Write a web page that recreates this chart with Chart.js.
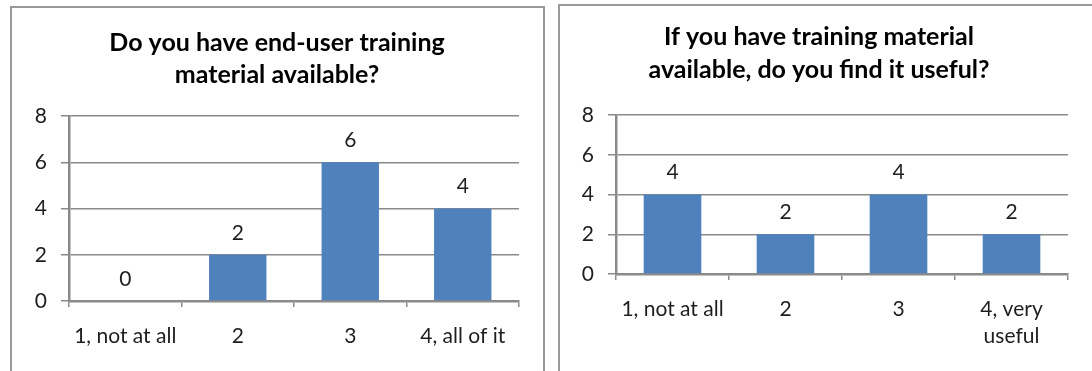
<!DOCTYPE html>
<html>
<head>
<meta charset="utf-8">
<script src="https://cdn.jsdelivr.net/npm/chart.js@4.4.1/dist/chart.umd.min.js"></script>
<style>
  body { margin: 0; background: #fff; width: 1092px; height: 371px; overflow: hidden; position: relative; }
  .frame { position: absolute; border: 2px solid #9a9a9a; box-sizing: border-box; }
  canvas { position: absolute; }
</style>
</head>
<body>
<div class="frame" style="left:10px;top:6px;width:535px;height:380px"></div>
<div class="frame" style="left:558px;top:4px;width:540px;height:380px"></div>
<canvas id="chart-available" style="left:12px;top:8px" width="530" height="363"></canvas>
<canvas id="chart-useful" style="left:560px;top:6px" width="532" height="365"></canvas>
<script>
// Survey answers, one chart per question
const availableTitle = ['Do you have end-user training', 'material available?'];
const availableLabels = ['1, not at all', '2', '3', '4, all of it'];
const availableCounts = [0, 2, 6, 4];

const usefulTitle = ['If you have training material', 'available, do you find it useful?'];
const usefulLabels = ['1, not at all', '2', '3', ['4, very', 'useful']];
const usefulCounts = [4, 2, 4, 2];

// Y axis: 0 to 8, every 2
const yMin = 0;
const yMax = 8;
const yStep = 2;

const barColor = '#4f81bd';
const lineColor = '#8a8a8a';
const textColor = '#1e1e1e';

Chart.defaults.font.family = 'Lato';
Chart.defaults.color = textColor;

// value written above each bar
const valueLabels = {
  id: 'valueLabels',
  afterDatasetsDraw(chart) {
    const ctx = chart.ctx;
    const values = chart.data.datasets[0].data;
    ctx.save();
    ctx.font = '21px Lato';
    ctx.fillStyle = textColor;
    ctx.textAlign = 'center';
    ctx.textBaseline = 'middle';
    chart.getDatasetMeta(0).data.forEach(function (bar, i) {
      ctx.fillText(String(values[i]), bar.x, bar.y - 22);
    });
    ctx.restore();
  }
};

function drawChart(id, title, labels, counts, box) {
  return new Chart(document.getElementById(id), {
    type: 'bar',
    data: {
      labels: labels,
      datasets: [{
        data: counts,
        backgroundColor: barColor,
        borderWidth: 0,
        barPercentage: 0.51,
        categoryPercentage: 1
      }]
    },
    options: {
      responsive: false,
      animation: false,
      layout: { padding: { left: 0, right: box.right, top: 0, bottom: 0 } },
      plugins: {
        legend: { display: false },
        tooltip: { enabled: false },
        title: {
          display: true,
          text: title,
          color: '#000',
          font: { size: 25, weight: 'bold', lineHeight: box.titleLine + 'px' },
          padding: { top: box.titleTop, bottom: box.titleBottom }
        }
      },
      scales: {
        x: {
          grid: { offset: true, drawOnChartArea: false, drawTicks: true, tickLength: 6, color: lineColor, lineWidth: 1.5 },
          border: { color: lineColor, width: 2.5 },
          ticks: { padding: 16, font: { size: 21, lineHeight: '27px' }, color: textColor, maxRotation: 0 },
          afterFit: function (scale) { scale.height = box.xHeight; }
        },
        y: {
          min: yMin,
          max: yMax,
          ticks: { stepSize: yStep, padding: 14, font: { size: 21 }, color: textColor },
          grid: { color: lineColor, lineWidth: 1.5, tickLength: 8 },
          border: { color: lineColor, width: 2.5 },
          afterFit: function (scale) { scale.width = box.yWidth; }
        },
        // empty right-hand axis, only keeps a margin so the title stays centred on the frame
        spacer: {
          type: 'linear',
          position: 'right',
          ticks: { display: false },
          grid: { display: false },
          border: { display: false },
          afterFit: function (scale) { scale.width = box.spacer; }
        }
      }
    },
    plugins: [valueLabels]
  });
}

drawChart('chart-available', availableTitle, availableLabels, availableCounts,
  { right: 0, spacer: 23, yWidth: 57, xHeight: 70, titleLine: 32, titleTop: 19, titleBottom: 25 });
drawChart('chart-useful', usefulTitle, usefulLabels, usefulCounts,
  { right: 14, spacer: 10, yWidth: 56, xHeight: 97, titleLine: 33, titleTop: 14, titleBottom: 29 });
</script>
</body>
</html>
